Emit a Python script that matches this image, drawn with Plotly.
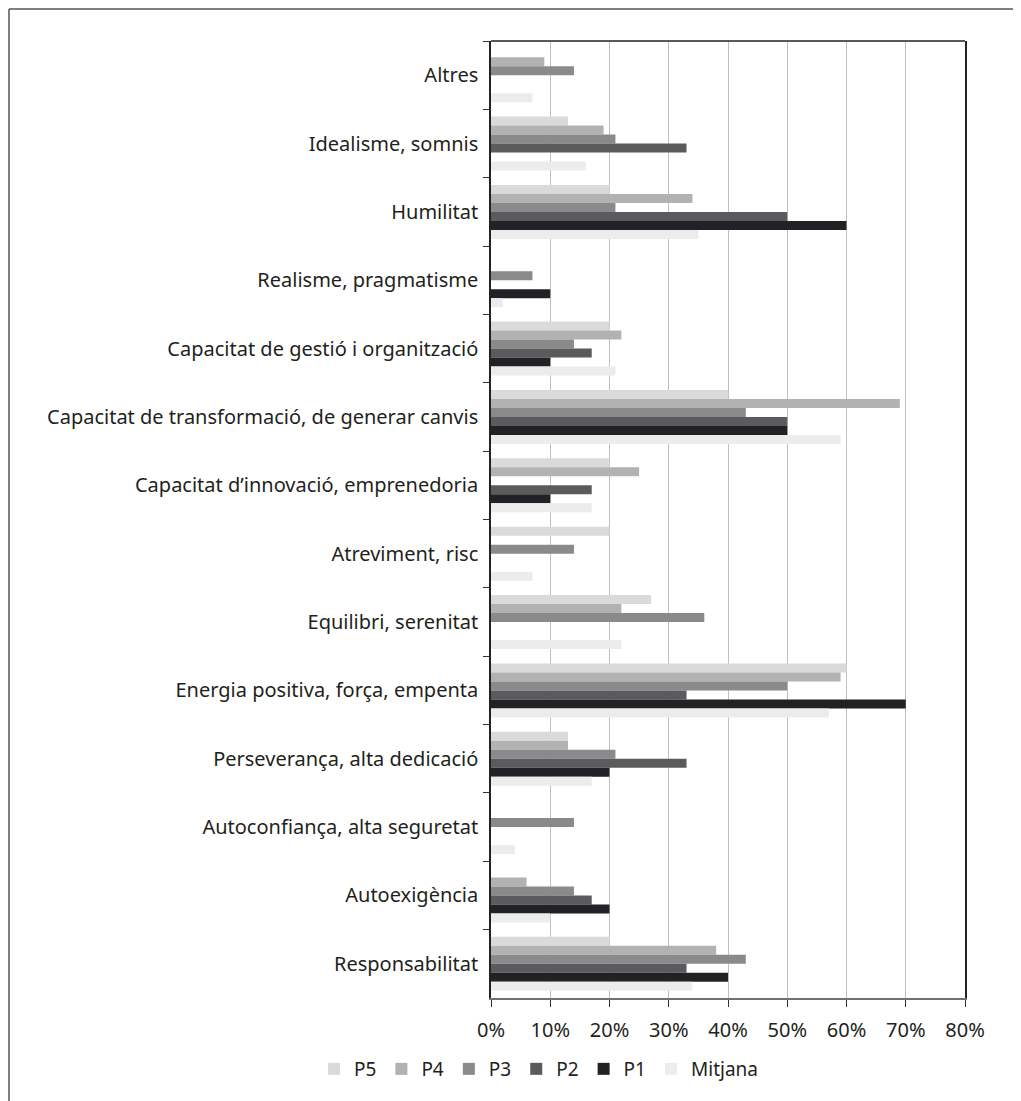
import plotly.graph_objects as go

categories = [
    "Altres",
    "Idealisme, somnis",
    "Humilitat",
    "Realisme, pragmatisme",
    "Capacitat de gestió i organització",
    "Capacitat de transformació, de generar canvis",
    "Capacitat d’innovació, emprenedoria",
    "Atreviment, risc",
    "Equilibri, serenitat",
    "Energia positiva, força, empenta",
    "Perseverança, alta dedicació",
    "Autoconfiança, alta seguretat",
    "Autoexigència",
    "Responsabilitat",
]

series_names = ["P5", "P4", "P3", "P2", "P1", "Mitjana"]

P5 = [0, 13, 20, 0, 20, 40, 20, 20, 27, 60, 13, 0, 0, 20]
P4 = [9, 19, 34, 0, 22, 69, 25, 0, 22, 59, 13, 0, 6, 38]
P3 = [14, 21, 21, 7, 14, 43, 0, 14, 36, 50, 21, 14, 14, 43]
P2 = [0, 33, 50, 0, 17, 50, 17, 0, 0, 33, 33, 0, 17, 33]
P1 = [0, 0, 60, 10, 10, 50, 10, 0, 0, 70, 20, 0, 20, 40]
Mitjana = [7, 16, 35, 2, 21, 59, 17, 7, 22, 57, 17, 4, 10, 34]

values = [P5, P4, P3, P2, P1, Mitjana]
colors = ["#d9dadb", "#b2b2b3", "#898a8b", "#5b5b5d", "#232125", "#ebeceb"]

x_ticks = [0, 10, 20, 30, 40, 50, 60, 70, 80]
x_tick_labels = [f"{v}%" for v in x_ticks]

TEXT = "#231f20"
FONT = "Noto Sans"

fig = go.Figure()
for name, vals, col in zip(series_names, values, colors):
    fig.add_trace(go.Bar(
        y=categories, x=vals, name=name, orientation="h",
        marker=dict(color=col, line=dict(width=0)),
    ))

# page body has an 8px margin; work in screen pixels and subtract it
OFF = 8
W, H = 1021 - OFF, 1101 - OFF
L, R, T, B = 491 - OFF, 965 - OFF, 41 - OFF, 998 - OFF
pw, ph = R - L, B - T

def px(xs):
    return (xs - OFF - L) / pw

def py(ys):
    return (B - (ys - OFF)) / ph

fig.update_layout(
    width=W, height=H,
    margin=dict(l=L, r=W - R, t=T, b=H - B, pad=0),
    paper_bgcolor="white", plot_bgcolor="white",
    barmode="group", bargap=0.21, bargroupgap=0,
    font=dict(family=FONT, size=20, color=TEXT),
    showlegend=True,
    legend=dict(
        orientation="h", x=px(314), xanchor="left", y=py(1069), yanchor="middle",
        font=dict(family=FONT, size=19, color=TEXT),
        itemwidth=30,
        traceorder="normal", bgcolor="rgba(0,0,0,0)",
    ),
    xaxis=dict(
        range=[0, 80], tickvals=x_ticks, ticktext=x_tick_labels,
        showgrid=True, gridcolor="#c0c0c0", gridwidth=1.3,
        showline=True, linecolor="#707070", linewidth=2,
        ticks="outside", ticklen=7, tickcolor="#333333", tickwidth=1,
        tickfont=dict(family=FONT, size=20, color=TEXT),
        ticklabelstandoff=6,
        zeroline=False, fixedrange=True,
    ),
    yaxis=dict(
        type="category", autorange="reversed",
        showline=True, linecolor="#222222", linewidth=1.5, mirror=True,
        ticks="outside", ticklen=6, tickcolor="#333333", tickwidth=1,
        tickson="boundaries", showgrid=False,
        tickfont=dict(family=FONT, size=20, color=TEXT),
        ticklabelstandoff=7, fixedrange=True,
    ),
    shapes=[
        dict(type="line", xref="paper", yref="paper", x0=0, x1=1, y0=1, y1=1,
             line=dict(color="#222222", width=1.5)),
        dict(type="line", xref="paper", yref="paper",
             x0=px(9), x1=px(1040), y0=py(9), y1=py(9),
             line=dict(color="#555555", width=1.5)),
        dict(type="line", xref="paper", yref="paper",
             x0=px(9), x1=px(9), y0=py(9), y1=py(1120),
             line=dict(color="#555555", width=1.5)),
    ],
)

fig.write_html("out.html")
